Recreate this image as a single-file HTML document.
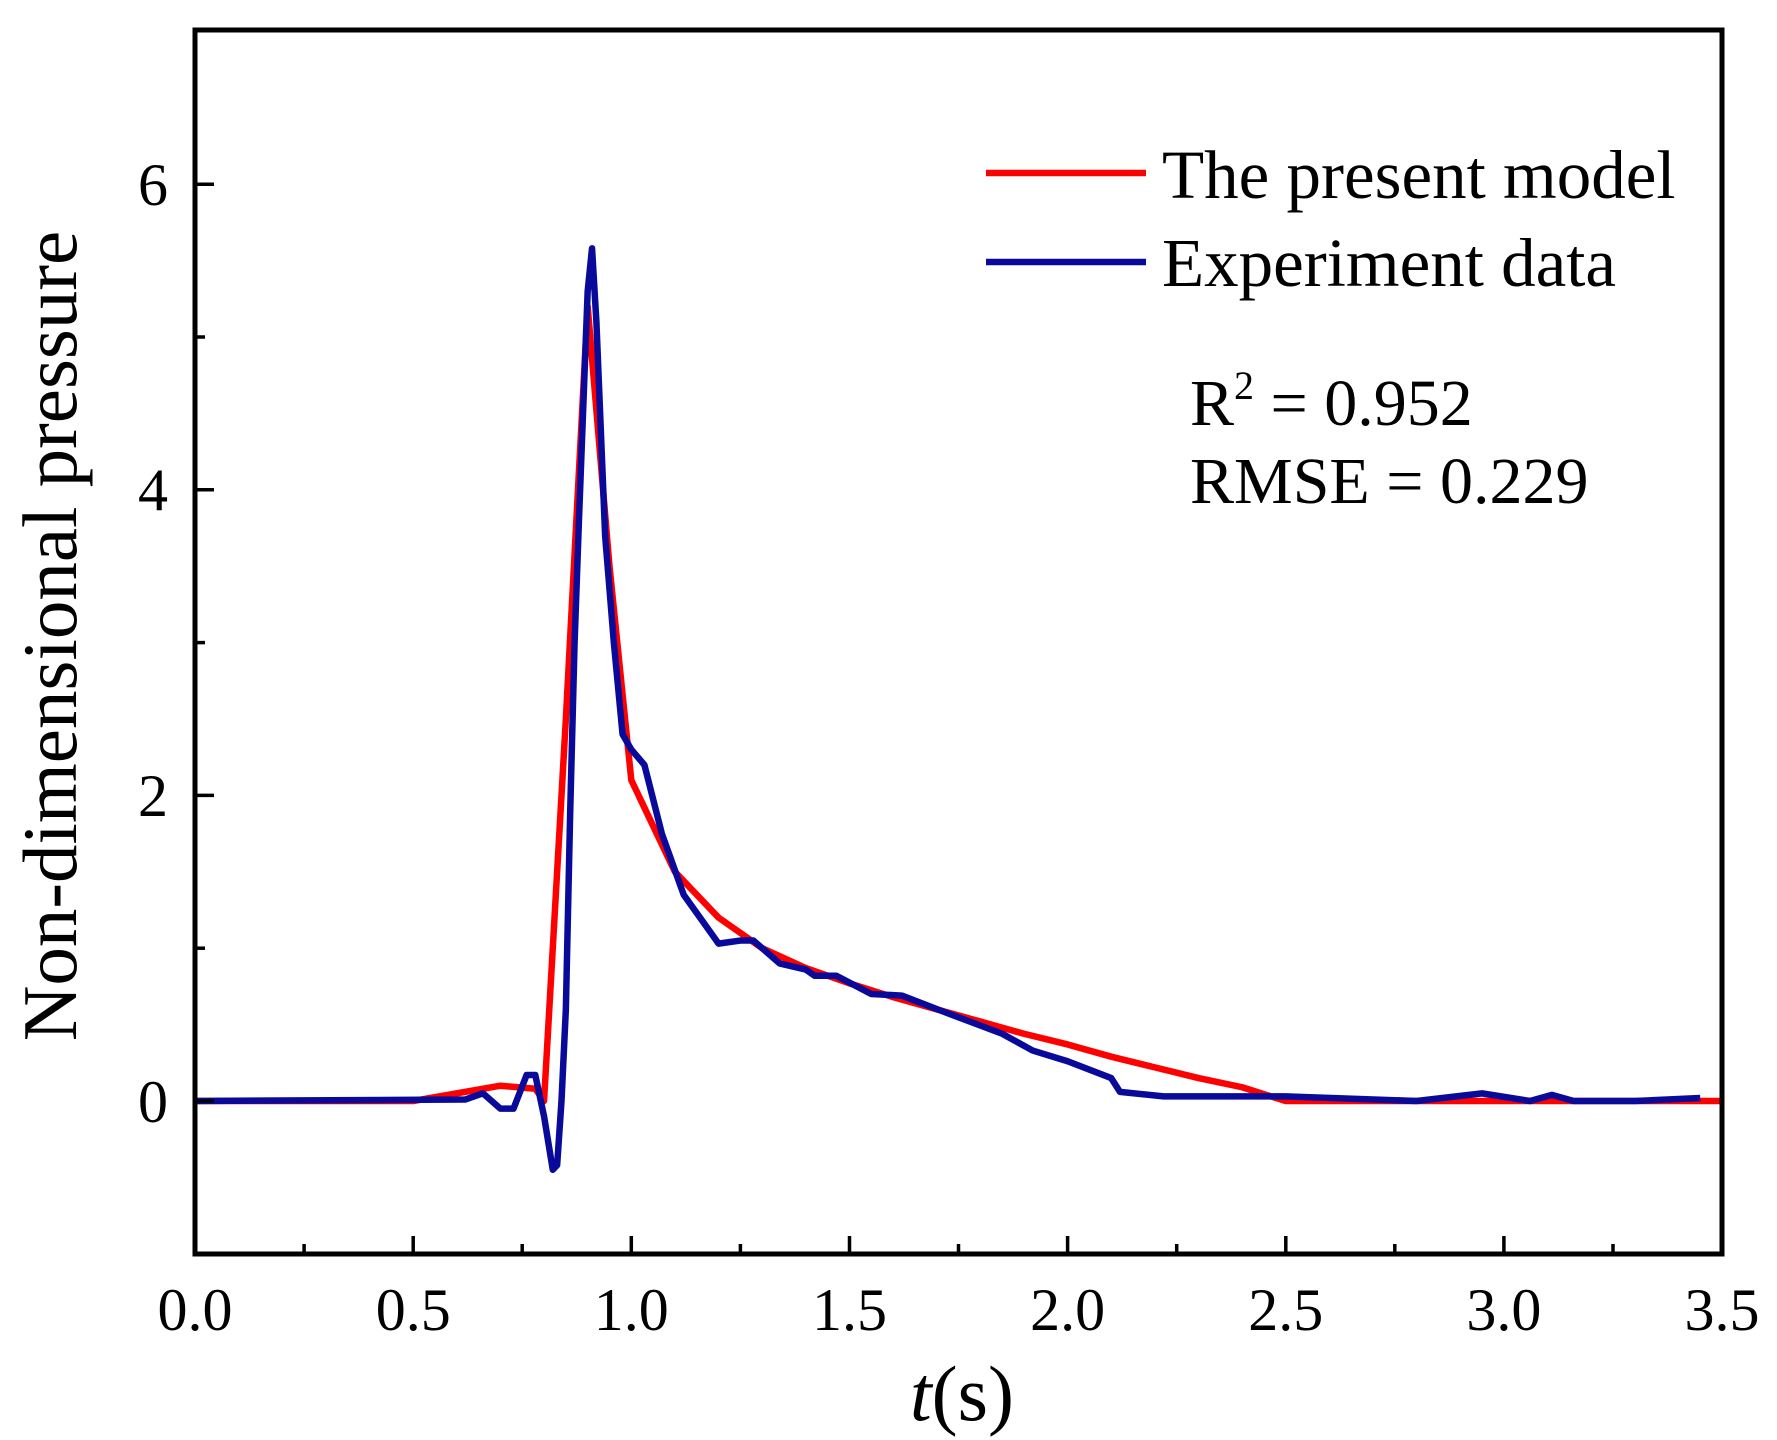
<!DOCTYPE html>
<html><head><style>body{margin:0;background:#fff}svg{display:block}</style></head>
<body>
<svg width="1777" height="1440" viewBox="0 0 1777 1440" xmlns="http://www.w3.org/2000/svg" font-family="Liberation Serif, serif">
<g transform="translate(195,1101) scale(436.3,-152.8)" fill="none" stroke-linejoin="round">
<polyline vector-effect="non-scaling-stroke" stroke="#ff0000" stroke-width="6.5" points="0,0 0.5,0 0.7,0.1 0.78,0.08 0.8,0 0.85,2.5 0.9,5.2 0.95,3.5 1.0,2.1 1.1,1.5 1.2,1.2 1.3,1.0 1.4,0.87 1.5,0.77 1.6,0.68 1.7,0.6 1.8,0.52 1.9,0.44 2.0,0.37 2.1,0.29 2.2,0.22 2.3,0.15 2.4,0.09 2.5,0 3.5,0"/>
<polyline vector-effect="non-scaling-stroke" stroke="#0a0a9a" stroke-width="6.5" points="0,0 0.62,0.01 0.66,0.05 0.7,-0.05 0.73,-0.05 0.76,0.17 0.78,0.17 0.8,-0.1 0.82,-0.45 0.83,-0.42 0.84,0 0.85,0.6 0.86,1.9 0.87,3 0.88,3.8 0.9,5.3 0.91,5.58 0.92,5.1 0.94,3.7 0.96,3 0.98,2.4 1.0,2.3 1.03,2.2 1.07,1.75 1.12,1.35 1.17,1.15 1.2,1.03 1.25,1.05 1.28,1.05 1.34,0.9 1.4,0.86 1.42,0.82 1.47,0.82 1.55,0.7 1.62,0.69 1.72,0.58 1.85,0.44 1.92,0.33 2.0,0.26 2.1,0.15 2.12,0.06 2.22,0.03 2.5,0.03 2.8,0 2.95,0.05 3.06,0 3.11,0.04 3.16,0 3.3,0 3.45,0.02"/>
</g>
<rect x="195" y="30" width="1527" height="1224" fill="none" stroke="#000" stroke-width="5"/>
<g stroke="#000" stroke-width="3.5">
<line x1="195" y1="1101" x2="214" y2="1101"/><line x1="195" y1="795.4" x2="214" y2="795.4"/><line x1="195" y1="489.8" x2="214" y2="489.8"/><line x1="195" y1="184.2" x2="214" y2="184.2"/>
<line x1="195" y1="948.2" x2="205" y2="948.2"/><line x1="195" y1="642.6" x2="205" y2="642.6"/><line x1="195" y1="337" x2="205" y2="337"/>
<line x1="413.2" y1="1254" x2="413.2" y2="1236"/><line x1="631.3" y1="1254" x2="631.3" y2="1236"/><line x1="849.5" y1="1254" x2="849.5" y2="1236"/><line x1="1067.6" y1="1254" x2="1067.6" y2="1236"/><line x1="1285.8" y1="1254" x2="1285.8" y2="1236"/><line x1="1503.9" y1="1254" x2="1503.9" y2="1236"/>
<line x1="304.1" y1="1254" x2="304.1" y2="1244"/><line x1="522.2" y1="1254" x2="522.2" y2="1244"/><line x1="740.4" y1="1254" x2="740.4" y2="1244"/><line x1="958.5" y1="1254" x2="958.5" y2="1244"/><line x1="1176.7" y1="1254" x2="1176.7" y2="1244"/><line x1="1394.8" y1="1254" x2="1394.8" y2="1244"/><line x1="1613" y1="1254" x2="1613" y2="1244"/>
</g>
<g font-size="60" text-anchor="middle">
<text x="195" y="1330">0.0</text><text x="413.2" y="1330">0.5</text><text x="631.3" y="1330">1.0</text><text x="849.5" y="1330">1.5</text><text x="1067.6" y="1330">2.0</text><text x="1285.8" y="1330">2.5</text><text x="1503.9" y="1330">3.0</text><text x="1722" y="1330">3.5</text>
</g>
<g font-size="60" text-anchor="end">
<text x="168" y="1122">0</text><text x="168" y="816">2</text><text x="168" y="510">4</text><text x="168" y="205">6</text>
</g>
<text x="962" y="1420" font-size="78" text-anchor="middle"><tspan font-style="italic">t</tspan>(s)</text>
<text transform="translate(76,636) rotate(-90)" font-size="77" text-anchor="middle">Non-dimensional pressure</text>
<line x1="986" y1="173" x2="1146" y2="173" stroke="#ff0000" stroke-width="6.5"/>
<line x1="986" y1="262" x2="1146" y2="262" stroke="#0a0a9a" stroke-width="6.5"/>
<g font-size="69"><text x="1162" y="198">The present model</text><text x="1162" y="286">Experiment data</text></g>
<g font-size="66"><text x="1190" y="425">R<tspan font-size="40" dy="-26">2</tspan><tspan dy="26"> = 0.952</tspan></text><text x="1190" y="503">RMSE = 0.229</text></g>
</svg>
</body></html>
